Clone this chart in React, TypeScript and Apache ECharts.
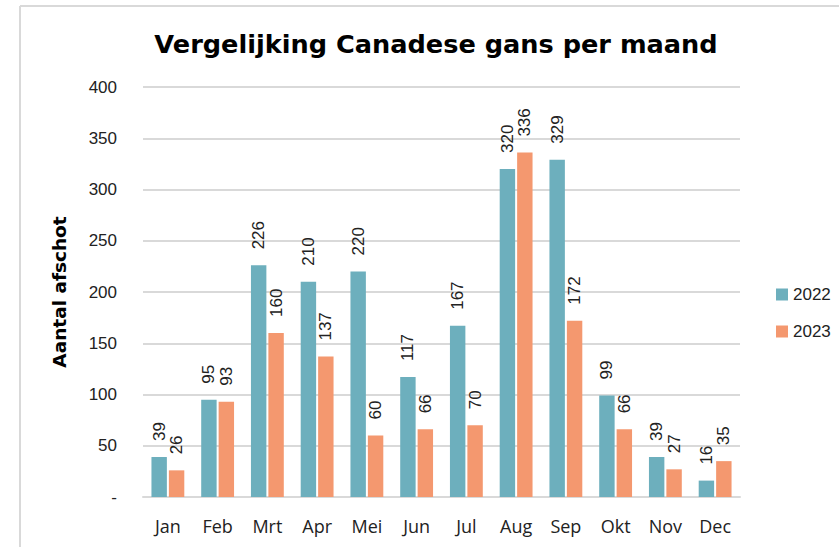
import React, { useEffect, useRef } from "react";
import * as echarts from "echarts";

const months = ["Jan", "Feb", "Mrt", "Apr", "Mei", "Jun", "Jul", "Aug", "Sep", "Okt", "Nov", "Dec"];
const values2022 = [39, 95, 226, 210, 220, 117, 167, 320, 329, 99, 39, 16];
const values2023 = [26, 93, 160, 137, 60, 66, 70, 336, 172, 66, 27, 35];
const seriesNames = ["2022", "2023"];
const colors = ["#6DAFBD", "#F4986F"];

export default function App() {
  const ref = useRef<HTMLDivElement>(null);
  useEffect(() => {
    if (!ref.current) return;
    const chart = echarts.init(ref.current, undefined, { renderer: "svg" });
    const labelStyle = {
      show: true,
      position: "top" as const,
      rotate: 90,
      align: "left" as const,
      verticalAlign: "middle" as const,
      distance: 16,
      fontFamily: "Liberation Sans",
      fontSize: 17,
      color: "#222",
    };
    chart.setOption({
      animation: false,
      backgroundColor: "#fff",
      title: {
        text: "Vergelijking Canadese gans per maand",
        left: 431,
        top: 26,
        textAlign: "center",
        textStyle: { fontFamily: "DejaVu Sans", fontWeight: "bold", fontSize: 25.6, color: "#000" },
      },
      legend: {
        orient: "vertical",
        left: 771,
        top: 281,
        itemWidth: 12,
        itemHeight: 12,
        itemGap: 20,
        icon: "rect",
        data: seriesNames,
        textStyle: { fontFamily: "Liberation Sans", fontSize: 17, color: "#222" },
      },
      grid: { left: 143, right: 99, top: 87, bottom: 50, containLabel: false },
      xAxis: {
        type: "category",
        data: months,
        axisTick: { show: false },
        axisLine: { lineStyle: { color: "#d9d9d9", width: 2 } },
        axisLabel: { fontFamily: "Open Sans", fontSize: 18, color: "#222", margin: 20 },
      },
      yAxis: {
        type: "value",
        min: 0,
        max: 400,
        interval: 50,
        name: "Aantal afschot",
        nameLocation: "middle",
        nameGap: 74,
        nameRotate: 90,
        nameTextStyle: { fontFamily: "DejaVu Sans", fontWeight: "bold", fontSize: 18.5, color: "#000" },
        axisLabel: {
          fontFamily: "Liberation Sans",
          fontSize: 17,
          color: "#222",
          margin: 26,
          formatter: (v: number) => (v === 0 ? "-" : String(v)),
        },
        splitLine: { lineStyle: { color: "#d9d9d9", width: 2 } },
      },
      series: [
        {
          name: seriesNames[0],
          type: "bar",
          data: values2022,
          itemStyle: { color: colors[0] },
          barWidth: "31%",
          barGap: "13%",
          label: labelStyle,
        },
        {
          name: seriesNames[1],
          type: "bar",
          data: values2023,
          itemStyle: { color: colors[1] },
          barWidth: "31%",
          barGap: "13%",
          label: labelStyle,
        },
      ],
      graphic: [
        { type: "line", shape: { x1: 20, y1: 6, x2: 839, y2: 6 }, style: { stroke: "#d9d9d9", lineWidth: 2 } },
        { type: "line", shape: { x1: 20, y1: 6, x2: 20, y2: 547 }, style: { stroke: "#d9d9d9", lineWidth: 2 } },
      ],
    });
    return () => chart.dispose();
  }, []);
  return <div ref={ref} style={{ position: "fixed", left: 0, top: 0, width: 839, height: 547 }} />;
}
